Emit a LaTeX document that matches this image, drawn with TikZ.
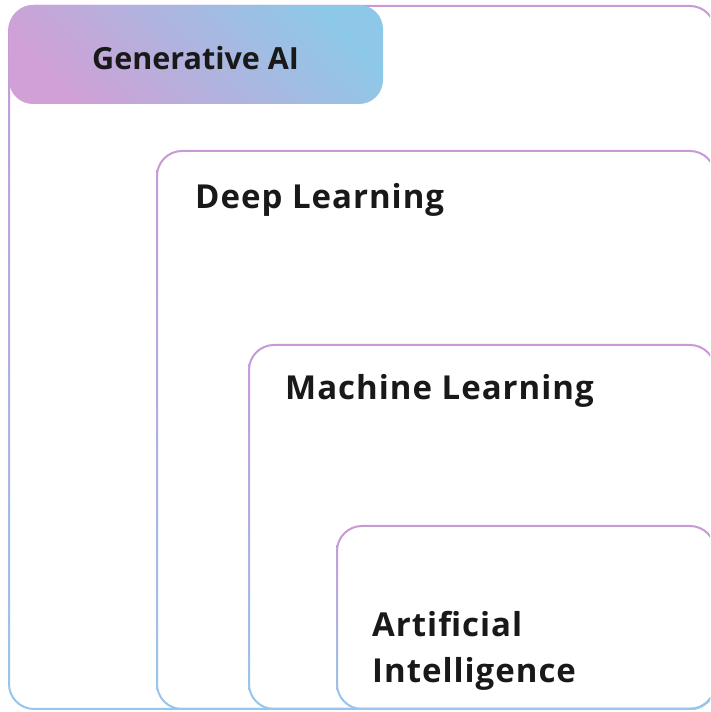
\documentclass[tikz,border=0pt]{standalone}
\usepackage{fontspec}
\setmainfont{Open Sans}
\newfontfamily\tagfont{Open Sans}[LetterSpace=3]
\definecolor{ringtop}{RGB}{201,153,214}
\definecolor{ringbot}{RGB}{152,198,234}
\definecolor{genpink}{RGB}{208,160,214}
\definecolor{genmid}{RGB}{184,186,226}
\definecolor{genblue}{RGB}{142,200,232}
\tikzset{
  ring/.style={top color=ringtop, bottom color=ringbot, even odd rule},
  tag/.style={anchor=base west, inner sep=0pt, align=left,
    font=\tagfont\fontsize{33}{46}\selectfont\bfseries, text=black!90},
}
\begin{document}
\begin{tikzpicture}[x=1pt,y=1pt]
  \useasboundingbox (0,0) rectangle (710,712);
  \clip (0,0) rectangle (710,712);
  \fill[white] (0,0) rectangle (710,712);
  \foreach \l/\t in {8/707, 156/562, 248/368, 336/187}
    \shade[ring] [rounded corners=26] (\l,2) rectangle (716,\t)
      [rounded corners=24] (\l+2,4) rectangle (714,\t-2);
  \shade[bottom color=genpink, middle color=genmid, top color=genblue,
    shading angle=-45, rounded corners=24] (9,608) rectangle (383,707);
  \node[tag, font=\rmfamily\fontsize{30.5}{46}\selectfont\bfseries]
    (genai) at (92,642) {Generative AI};
  \node[tag] (deep) at (195,503) {Deep Learning};
  \node[tag] (ml) at (285,312) {Machine Learning};
  \node[tag] (ai) at (372,29) {Artificial\\Intelligence};
\end{tikzpicture}
\end{document}
